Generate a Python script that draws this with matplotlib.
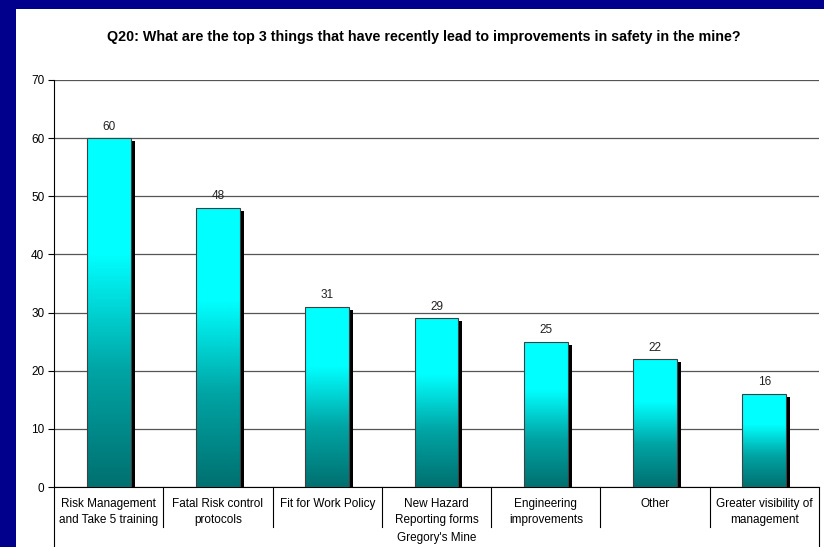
import numpy as np
import matplotlib
matplotlib.use("Agg")
import matplotlib.pyplot as plt
from matplotlib.transforms import offset_copy
from matplotlib.colors import LinearSegmentedColormap

categories = [
    "Risk Management\nand Take 5 training",
    "Fatal Risk control\nprotocols",
    "Fit for Work Policy",
    "New Hazard\nReporting forms",
    "Engineering\nimprovements",
    "Other",
    "Greater visibility of\nmanagement",
]
values = [60, 48, 31, 29, 25, 22, 16]
group_label = "Gregory's Mine"
title = "Q20: What are the top 3 things that have recently lead to improvements in safety in the mine?"

plt.rcParams['font.family'] = ['Liberation Sans', 'DejaVu Sans']

fig = plt.figure(figsize=(8.24, 5.47), dpi=100)
fig.patch.set_facecolor('#00008C')

# white slide panel
panel = fig.add_axes([16 / 824, 0, 1 - 16 / 824, 1 - 9 / 547])
panel.set_facecolor('white')
panel.set_xticks([])
panel.set_yticks([])
for s in panel.spines.values():
    s.set_visible(False)
panel.set_zorder(0)

ax = fig.add_axes([54 / 824, 1 - 487 / 547, (819 - 54) / 824, (487 - 80) / 547])
ax.set_zorder(1)
ax.patch.set_alpha(0)

x = np.arange(len(values))
width = 0.4

# shadows
shadow_tr = offset_copy(ax.transData, fig=fig, x=4, y=-3, units='dots')
for xi, v in zip(x, values):
    ax.add_patch(plt.Rectangle((xi - width / 2, 0), width, v, transform=shadow_tr,
                               facecolor='black', edgecolor='none', zorder=2))

bars = ax.bar(x, values, width, facecolor='none', edgecolor='#404040', linewidth=0.8, zorder=4)

cmap = LinearSegmentedColormap.from_list('teal', ['#007070', '#00a4a4', '#00ffff', '#00ffff'])
grad = np.linspace(0, 1, 256).reshape(-1, 1)
for b in bars:
    x0, y0 = b.get_x(), b.get_y()
    w, h = b.get_width(), b.get_height()
    im = ax.imshow(grad, extent=[x0, x0 + w, y0, y0 + h], origin='lower', cmap=cmap,
                   aspect='auto', zorder=3)
    im.set_clip_path(b)

for xi, v in zip(x, values):
    ax.annotate(str(v), (xi, v), xytext=(0, 4), textcoords='offset points',
                ha='center', va='bottom', fontsize=8.5, color='#222222')

ax.set_xlim(-0.5, len(values) - 0.5)
ax.set_ylim(0, 70)
ax.set_yticks(range(0, 71, 10))
ax.yaxis.grid(True, color='#555555', linewidth=0.9)
ax.set_axisbelow(True)
ax.tick_params(axis='y', length=4, width=0.8, labelsize=8.5, pad=3)
ax.set_xticks(x)
ax.set_xticklabels(categories, fontsize=8.5, linespacing=1.4)
ax.tick_params(axis='x', length=0, pad=8)
for s in ['top', 'right']:
    ax.spines[s].set_visible(False)
ax.spines['left'].set_color('black')
ax.spines['bottom'].set_color('black')

# category separator lines
xt = ax.get_xaxis_transform()
sep_depth = (527 - 487) / 407
outer_depth = (547 - 487) / 407
for b in np.arange(0.5, len(values) - 1, 1.0):
    ax.plot([b, b], [0, -sep_depth], transform=xt, color='black', linewidth=0.8, clip_on=False)
for b in [-0.5, len(values) - 0.5]:
    ax.plot([b, b], [0, -outer_depth], transform=xt, color='black', linewidth=0.8, clip_on=False)

ax.text(0.5, -(538 - 487) / 407, group_label, transform=ax.transAxes, ha='center',
        va='center', fontsize=8.5)

fig.text(0.5 + 12 / 824, 1 - 37 / 547, title, ha='center', va='center', fontsize=10.3,
         fontweight='bold')

fig.savefig('out.png', dpi=100, facecolor=fig.get_facecolor())
